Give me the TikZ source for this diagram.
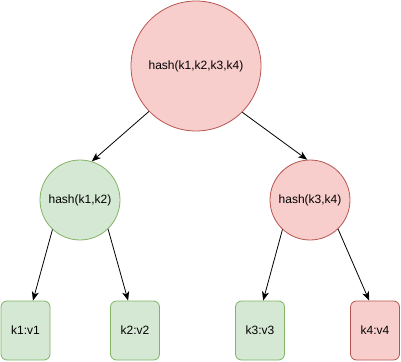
\documentclass[tikz,border=0pt]{standalone}
\usepackage{fontspec}
\setmainfont{Liberation Sans}
\usetikzlibrary{arrows.meta}
\definecolor{gfill}{HTML}{D5E8D4}
\definecolor{gline}{HTML}{82B366}
\definecolor{rfill}{HTML}{F8CECC}
\definecolor{rline}{HTML}{B85450}
\tikzset{
  hnode/.style={circle, draw, line width=0.8pt, inner sep=0pt, font=\fontsize{12}{14}\selectfont},
  gc/.style={hnode, fill=gfill, draw=gline},
  rc/.style={hnode, fill=rfill, draw=rline},
  leaf/.style={rectangle, rounded corners=6pt, line width=0.8pt, minimum width=49pt, minimum height=59pt, inner sep=0pt, font=\fontsize{12}{14}\selectfont},
  gleaf/.style={leaf, fill=gfill, draw=gline},
  rleaf/.style={leaf, fill=rfill, draw=rline},
  conn/.style={line width=0.8pt, -{Stealth[length=9pt,width=7pt,inset=2.5pt]}}
}
\begin{document}
\begin{tikzpicture}[x=1pt,y=-1pt]
\useasboundingbox (0,0) rectangle (401,361);
\node[rc, minimum size=130pt] (top) at (196,66) {hash(k1,k2,k3,k4)};
\node[gc, minimum size=80pt] (l) at (80,200) {hash(k1,k2)};
\node[rc, minimum size=80pt] (r) at (310,200) {hash(k3,k4)};
\node[gleaf] (k1) at (25.5,330.5) {k1:v1};
\node[gleaf] (k2) at (135,330.5) {k2:v2};
\node[gleaf] (k3) at (260,330.5) {k3:v3};
\node[rleaf] (k4) at (375,330.5) {k4:v4};
\draw[conn] (top.224) -- (l.73);
\draw[conn] (top.315) -- (r.94);
\draw[conn] (l.227) -- (k1.76);
\draw[conn] (l.314) -- (k2.103);
\draw[conn] (r.227) -- (k3.84);
\draw[conn] (r.314) -- (k4.101);
\end{tikzpicture}
\end{document}
